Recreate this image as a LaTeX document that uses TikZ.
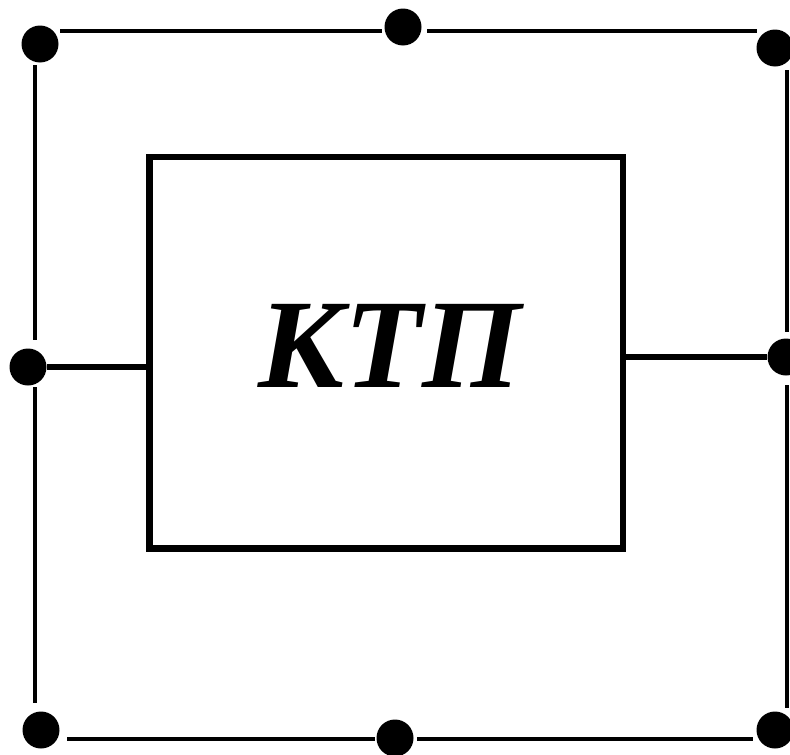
\documentclass[tikz,border=0pt]{standalone}
\usepackage{fontspec}
\setmainfont{Liberation Serif}
\newfontfamily\ktpfont{Liberation Serif}[BoldItalicFont={Liberation Serif Bold Italic},BoldFont={Liberation Serif Bold},ItalicFont={Liberation Serif Italic}]
\begin{document}
\begin{tikzpicture}[x=1pt,y=-1pt,
  dot/.style={circle,fill=black,draw=none,minimum size=37pt,inner sep=0pt},
  outerline/.style={line width=4.5pt,draw=black},
  link/.style={line width=6.5pt,draw=black},
  kbox/.style={draw=black,line width=6.5pt,rectangle,minimum width=473.5pt,minimum height=391.5pt,inner sep=0pt}]
\useasboundingbox (0,0) rectangle (790,755);
% outer line end points
\coordinate (t1) at (60,31);
\coordinate (t2) at (382,31);
\coordinate (t3) at (427,31);
\coordinate (t4) at (757,31);
\coordinate (r1) at (787,70);
\coordinate (r2) at (787,332);
\coordinate (r3) at (787,385);
\coordinate (r4) at (787,708);
\coordinate (b1) at (67,739);
\coordinate (b2) at (375,739);
\coordinate (b3) at (417,739);
\coordinate (b4) at (753,739);
\coordinate (l1) at (35,65);
\coordinate (l2) at (35,340);
\coordinate (l3) at (35,387);
\coordinate (l4) at (35,703);
\draw[outerline] (t1) -- (t2);
\draw[outerline] (t3) -- (t4);
\draw[outerline] (r1) -- (r2);
\draw[outerline] (r3) -- (r4);
\draw[outerline] (b1) -- (b2);
\draw[outerline] (b3) -- (b4);
\draw[outerline] (l1) -- (l2);
\draw[outerline] (l3) -- (l4);
% inner box
\node[kbox] (box) at (386.25,352.75) {};
\node[anchor=base,inner sep=0pt,font=\ktpfont\fontsize{127}{130}\selectfont\bfseries\itshape] (label) at (390,387) {КТП};
% dots
\node[dot] (dtl) at (40,44) {};
\node[dot] (dtm) at (403,27) {};
\node[dot] (dtr) at (775,48) {};
\node[dot] (dml) at (28,367) {};
\node[dot] (dmr) at (786,357) {};
\node[dot] (dbl) at (41,730) {};
\node[dot] (dbm) at (395,738) {};
\node[dot] (dbr) at (775,730) {};
% links
\draw[link] (dml) -- (dml -| box.west);
\draw[link] (box.east |- dmr) -- (dmr);
\end{tikzpicture}
\end{document}
